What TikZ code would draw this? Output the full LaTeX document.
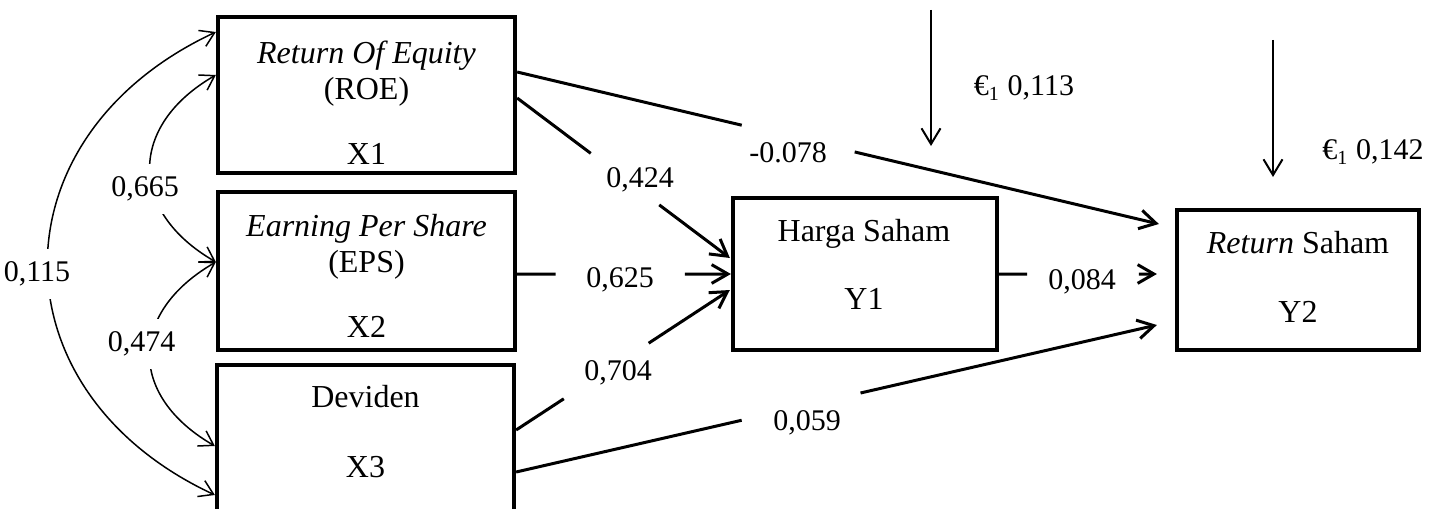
\documentclass[tikz,border=0pt]{standalone}
\usepackage{fontspec}
\setmainfont{Liberation Serif}
\usetikzlibrary{calc,arrows.meta}
\def\gapline[#1](#2)(#3)(#4:#5){\draw[#1] (#2) -- ($(#2)!#4!(#3)$); \draw[#1,-{Straight Barb[length=6.5pt,width=7.5pt]}] ($(#2)!#5!(#3)$) -- (#3);}
\tikzset{
	box/.style={draw, line width=1.7pt, inner sep=0pt},
	txt/.style={align=center, inner sep=0pt, font=\fontsize{12.8}{14.4}\selectfont},
	link/.style={line width=1.2pt},
	corr/.style={line width=0.6pt, {Straight Barb[length=5.5pt,width=7pt]}-{Straight Barb[length=5.5pt,width=7pt]}},
	err/.style={line width=0.8pt, -{Straight Barb[length=6.3pt,width=7.6pt]}},
	lbl/.style={inner sep=1pt},
	clbl/.style={fill=white, inner xsep=1pt, inner ysep=5pt}
}

\begin{document}
\begin{tikzpicture}[x=0.4pt, y=0.4pt, every node/.style={font=\fontsize{12}{14.4}\selectfont}]
			%%%%% START %%%%%
			\useasboundingbox (0,0) rectangle (1440,508);
			
			% exogenous boxes
			\node[box, minimum width=118.8pt, minimum height=62.4pt] (roe) at (366.5,413) {};
			\node[txt] (roe-t) at (366.5,405.5) {\textit{Return Of Equity}\\(ROE)\\[11.6pt]X1};
			\node[box, minimum width=118.8pt, minimum height=63.2pt] (eps) at (366.5,237) {};
			\node[txt] (eps-t) at (366.5,232) {\textit{Earning Per Share}\\(EPS)\\[11.6pt]X2};
			\node[box, minimum width=118.8pt, minimum height=63.2pt] (dev) at (365.5,64) {};
			\node[txt] (dev-t) at (365.5,76) {Deviden\\[13.6pt]X3};
			
			% endogenous boxes
			\node[box, minimum width=105.6pt, minimum height=60.8pt] (hs) at (865,234) {};
			\node[txt] (hs-t) at (864,244) {Harga Saham\\[12.8pt]Y1};
			\node[box, minimum width=96.8pt, minimum height=56pt] (rs) at (1298,228) {};
			\node[txt] (rs-t) at (1298,231.5) {\textit{Return} Saham\\[13.2pt]Y2};
			
			% path ends
			\coordinate (roe-o1) at ($(roe.east)+(0,23)$);
			\coordinate (roe-o2) at ($(roe.east)+(0,-3)$);
			\coordinate (eps-o) at (eps.east |- hs.west);
			\coordinate (dev-o1) at ($(dev.east)+(0,14)$);
			\coordinate (dev-o2) at ($(dev.east)+(0,-28)$);
			\coordinate (hs-i1) at ($(hs.west)+(-1,16)$);
			\coordinate (hs-i3) at ($(hs.west)+(-1,-16)$);
			\coordinate (rs-i1) at ($(rs.west)+(-16,56)$);
			\coordinate (rs-i2) at ($(rs.west |- hs.east)+(-18,0)$);
			\coordinate (rs-i3) at ($(rs.west)+(-18,-45)$);
			
			\gapline[link](roe-o1)(rs-i1)(0.35:0.526)
			\gapline[link](roe-o2)(hs-i1)(0.346:0.668)
			\gapline[link](eps-o)(hs.west)(0.18:0.785)
			\gapline[link](dev-o1)(hs-i3)(0.223:0.62)
			\gapline[link](dev-o2)(rs-i3)(0.352:0.5375)
			\gapline[link](hs.east)(rs-i2)(0.177:0.886)
			
			\node[lbl] (l-078) at (788,355) {-0.078};
			\node[lbl] (l-424) at (640,328) {0,424};
			\node[lbl] (l-625) at (620,228) {0,625};
			\node[lbl] (l-704) at (618,135) {0,704};
			\node[lbl] (l-059) at (807,85) {0,059};
			\node[lbl] (l-084) at (1082,226) {0,084};
			
			% correlations
			\draw[corr] ($(roe.west)+(0,20)$) to[out=210, in=150, looseness=1.39] node[clbl, pos=0.6, xshift=-3pt] (l-665) {0,665} ($(eps.west)+(0,9)$);
			\draw[corr] ($(eps.west)+(0,9)$) to[out=210, in=150, looseness=1.4] node[clbl, pos=0.45, xshift=-3.6pt] (l-474) {0,474} ($(dev.west)+(0,-2)$);
			\draw[corr] ($(roe.west)+(0,63)$) to[out=205, in=155, looseness=1.36] node[clbl, pos=0.52, xshift=-4.4pt] (l-115) {0,115} ($(dev.west)+(0,-51)$);
			
			% errors
			\coordinate (e1-top) at (931,498);
			\coordinate (e1-tip) at (931,362);
			\draw[err] (e1-top) -- (e1-tip);
			\node[lbl] (l-e1) at (1024,420) {€\textsubscript{1} 0,113};
			\coordinate (e2-top) at (1273,468);
			\coordinate (e2-tip) at (1273,331);
			\draw[err] (e2-top) -- (e2-tip);
			\node[lbl] (l-e2) at (1373,356) {€\textsubscript{1} 0,142};
			
			%%%%% END %%%%%
\end{tikzpicture}
\end{document}
